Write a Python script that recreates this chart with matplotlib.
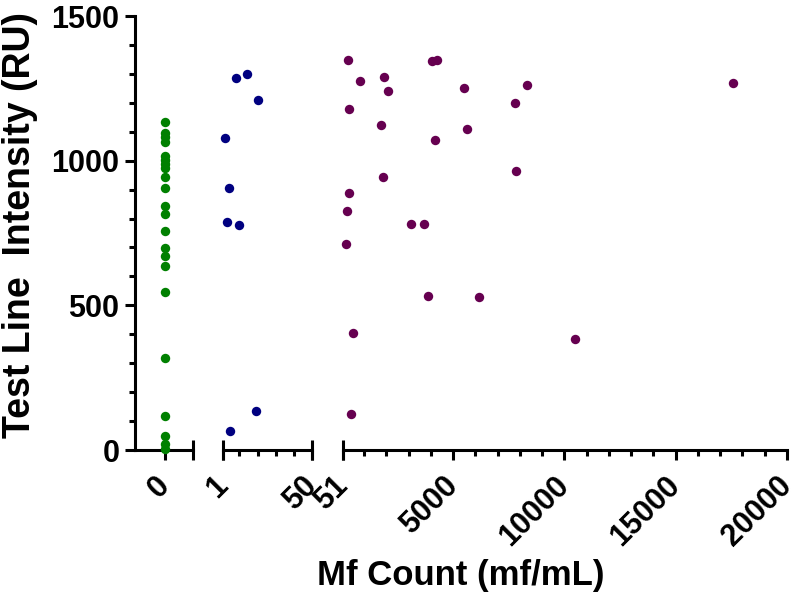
import matplotlib
matplotlib.use("Agg")
import matplotlib.pyplot as plt
from matplotlib.lines import Line2D

plt.rcParams['font.family'] = ['Liberation Sans', 'DejaVu Sans']
plt.rcParams['font.weight'] = 'bold'

# ---- data ----
green_x = [0] * 22
green_y = [1132, 1094, 1081, 1066, 1016, 1002, 988, 976, 942, 906, 844, 815,
           758, 699, 670, 637, 547, 319, 119, 50, 20, 3]

blue_x = [8.0, 14.2, 20.1, 2.3, 4.1, 3.2, 10.0, 19.2, 5.0]
blue_y = [1287, 1299, 1210, 1079, 907, 788, 776, 134, 66]

purple_x = [271, 823, 1901, 2081, 329, 1780, 4205, 4043, 4268, 5480, 8337,
            7771, 5629, 7829, 1870, 343, 240, 3127, 3684, 181, 3864, 6154,
            496, 10466, 419, 17575]
purple_y = [1349, 1274, 1288, 1241, 1177, 1123, 1072, 1344, 1348, 1251, 1262,
            1199, 1108, 965, 942, 888, 826, 782, 782, 712, 533, 529,
            403, 383, 125, 1268]

seg1_ticks = [0]
seg2_ticks = [1, 50]
seg2_minor = [10, 20, 30, 40]
seg3_ticks = [51, 5000, 10000, 15000, 20000]
seg3_tick_labels = ['51', '5000', '10000', '15000', '20000']
seg3_minor = [1000, 2000, 3000, 4000, 6000, 7000, 8000, 9000,
              11000, 12000, 13000, 14000, 16000, 17000, 18000, 19000]
y_ticks = [0, 500, 1000, 1500]
y_minor = [100, 200, 300, 400, 600, 700, 800, 900, 1100, 1200, 1300, 1400]

colors = {'green': '#008000', 'blue': '#000080', 'purple': '#660050'}

W, H = 800, 596
fig = plt.figure(figsize=(W / 100, H / 100), dpi=100)

def rect(x0, x1, ytop=16, ybot=450):
    return [x0 / W, (H - ybot) / H, (x1 - x0) / W, (ybot - ytop) / H]

ax1 = fig.add_axes(rect(135, 193))
ax2 = fig.add_axes(rect(223, 312))
ax3 = fig.add_axes(rect(343, 787))

LW = 2.2
FS_TICK = 22
ms = 46

for ax in (ax1, ax2, ax3):
    ax.set_ylim(0, 1500)
    for s in ('top', 'right'):
        ax.spines[s].set_visible(False)
    ax.spines['bottom'].set_linewidth(LW)
    ax.spines['left'].set_linewidth(LW)
    ax.patch.set_alpha(0)
    ax.tick_params(axis='x', which='major', length=7.2, width=LW,
                   labelsize=FS_TICK, pad=15)
    ax.tick_params(axis='x', which='minor', length=4, width=LW)

ax1.set_xlim(-1.0, 0.933)
ax2.set_xlim(1, 50)
ax3.set_xlim(51, 20000)

ax1.scatter(green_x, green_y, s=ms, color=colors['green'], zorder=3,
            clip_on=False, linewidths=0)
ax2.scatter(blue_x, blue_y, s=ms, color=colors['blue'], zorder=3,
            clip_on=False, linewidths=0)
ax3.scatter(purple_x, purple_y, s=ms, color=colors['purple'], zorder=3,
            clip_on=False, linewidths=0)

# y axis on first segment
ax1.set_yticks(y_ticks)
ax1.set_yticks(y_minor, minor=True)
ax1.tick_params(axis='y', which='major', length=7.2, width=LW,
                labelsize=FS_TICK, pad=4)
ax1.tick_params(axis='y', which='minor', length=4, width=LW)
for ax in (ax2, ax3):
    ax.spines['left'].set_visible(False)
    ax.tick_params(axis='y', which='both', left=False, labelleft=False)

ax1.set_xticks(seg1_ticks)
ax1.set_xticklabels(['0'])
ax2.set_xticks(seg2_ticks)
ax2.set_xticklabels([str(t) for t in seg2_ticks])
ax2.set_xticks(seg2_minor, minor=True)
ax3.set_xticks(seg3_ticks)
ax3.set_xticklabels(seg3_tick_labels)
ax3.set_xticks(seg3_minor, minor=True)

for ax in (ax1, ax2, ax3):
    for lab in ax.get_xticklabels():
        lab.set_rotation(45)
        lab.set_ha('right')
        lab.set_va('center')
        lab.set_rotation_mode('anchor')
        lab.set_fontweight('bold')
    for lab in ax.get_yticklabels():
        lab.set_fontweight('bold')

# break end bars
d = 10 / 434
def bar(ax, xf):
    ax.add_line(Line2D([xf, xf], [-d, d], transform=ax.transAxes,
                       color='black', lw=LW, clip_on=False,
                       solid_capstyle='butt'))
bar(ax1, 1)
bar(ax2, 0)
bar(ax2, 1)
bar(ax3, 0)

fig.text(20 / W, 1 - 225 / H, 'Test Line  Intensity (RU)', rotation=90,
         ha='center', va='center', fontsize=27, fontweight='bold')
fig.text(461 / W, 1 - 575 / H, 'Mf Count (mf/mL)', ha='center',
         va='center', fontsize=25, fontweight='bold')

fig.savefig('out.png', dpi=100)
